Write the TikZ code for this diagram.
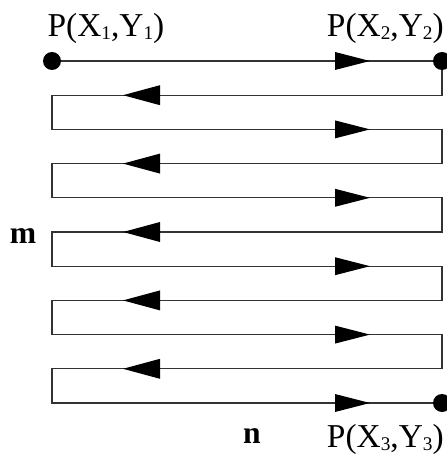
\documentclass[tikz,border=0pt]{standalone}
\usepackage{fontspec}
\setmainfont{Liberation Serif}
\usetikzlibrary{positioning}
\newcommand{\lowdig}[1]{\raisebox{-0.2ex}{\fontsize{11}{11}\selectfont #1}}

\begin{document}
\begin{tikzpicture}[x=0.02cm, y=-0.02cm,
    wire/.style={line width=0.6pt, black!80},
    dot/.style={circle, fill=black, inner sep=0pt, minimum size=0.36cm},
    lbl/.style={font=\fontsize{19}{22}\selectfont, inner sep=0pt},
    axlbl/.style={font=\fontsize{18}{20}\selectfont\bfseries}]
        \useasboundingbox (0,0) rectangle (446,455);
        % corner points of the rows
        \foreach \k in {0,...,10}{
            \coordinate (L\k) at (52,{61+34.2*\k});
            \coordinate (R\k) at (442,{61+34.2*\k});
        }
        \draw[wire, line join=miter] (L0)
            foreach \a/\b/\c in {0/1/2,2/3/4,4/5/6,6/7/8,8/9/10}{ -- (R\a) -- (R\b) -- (L\b) -- (L\c) }
            -- (R10);
        % direction marks
        \foreach \k in {0,2,...,10}{
            \pgfmathsetmacro\yy{61+34.2*\k}
            \fill (335,{\yy-9}) -- (370,\yy) -- (335,{\yy+9}) -- cycle;
        }
        \foreach \k in {1,3,...,9}{
            \pgfmathsetmacro\yy{61+34.2*\k}
            \fill (160,{\yy-10}) -- (123,\yy) -- (160,{\yy+10}) -- cycle;
        }
        \node[dot] (p1) at (L0) {};
        \node[dot] (p2) at (R0) {};
        \node[dot] (p3) at (R10) {};
        \node[lbl] (t1) at (106,28) {P(X\lowdig{1},Y\lowdig{1})};
        \node[lbl, anchor=east] (t2) at (444,28) {P(X\lowdig{2},Y\lowdig{2})};
        \node[lbl, anchor=east] (t3) at (444,439) {P(X\lowdig{3},Y\lowdig{3})};
        \node[axlbl] (m) at (23,236) {m};
        \node[axlbl] (n) at (252,436) {n};
    \end{tikzpicture}
\end{document}
